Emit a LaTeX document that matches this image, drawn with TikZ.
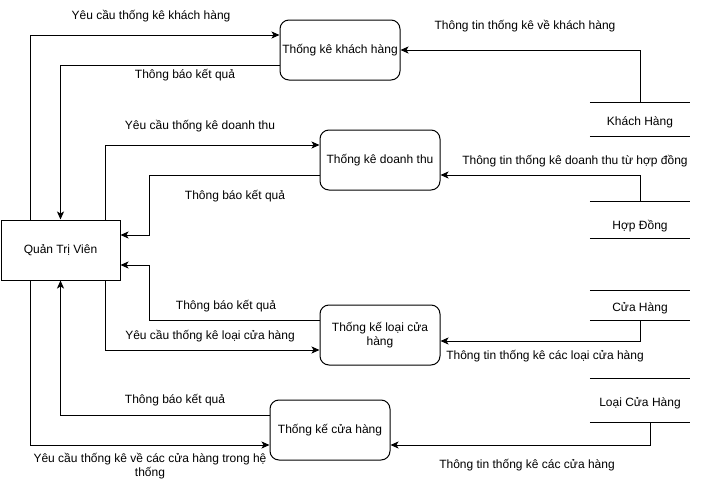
\documentclass[tikz,border=0pt]{standalone}
\usepackage{fontspec}
\setmainfont{Liberation Sans}
\usetikzlibrary{arrows.meta,calc}
\begin{document}
\begin{tikzpicture}[x=1pt,y=-1pt, font=\fontsize{12}{14}\selectfont,
 proc/.style={draw, rounded corners=9pt, minimum width=120pt, minimum height=60pt, align=center, inner sep=2pt, line width=1pt},
 ent/.style={draw, minimum width=119pt, minimum height=60pt, line width=1pt},
 store/.style={minimum width=100pt, inner sep=0pt},
 storeline/.style={line width=1pt},
 flow/.style={line width=1pt, -{Stealth[length=8pt,width=7pt,inset=2pt]}},
 lbl/.style={inner sep=0pt, align=center}]
\useasboundingbox (0,0) rectangle (702,482);
% entities and processes
\node[ent] (qtv) at (60.5,250) {Quản Trị Viên};
\node[proc] (kh) at (340,50) {Thống kê khách hàng};
\node[proc] (dt) at (380,160) {Thống kê doanh thu};
\node[proc] (lch) at (380,335) {Thống kế loại cửa\\hàng};
\node[proc] (ch) at (330,430) {Thống kế cửa hàng};
% data stores
\node[store, minimum height=33pt, label={[yshift=-3pt]center:Khách Hàng}] (skh) at (640,119.5) {};
\node[store, minimum height=36pt, label={[yshift=-6pt]center:Hợp Đồng}] (shd) at (640,220) {};
\node[store, minimum height=29pt, label={[yshift=-3pt]center:Cửa Hàng}] (sch) at (640,305.5) {};
\node[store, minimum height=43pt, label={[yshift=-3pt]center:Loại Cửa Hàng}] (slch) at (640,400.5) {};
\foreach \s in {skh,shd,sch,slch}
  \draw[storeline] (\s.north west)--(\s.north east) (\s.south west)--(\s.south east);
% flows between admin and processes
\draw[flow] ([xshift=-30pt]qtv.north) |- ([yshift=15pt]kh.west);
\draw[flow] ([yshift=-15pt]kh.west) -| (qtv.north);
\draw[flow] ([xshift=45pt]qtv.north) |- ([yshift=15pt]dt.west);
\draw[flow] ([yshift=-15pt]dt.west) -- ++(-170,0) |- ([yshift=15pt]qtv.east);
\draw[flow] ([yshift=15pt]lch.west) -- ++(-170,0) |- ([yshift=-15pt]qtv.east);
\draw[flow] ([xshift=45pt]qtv.south) |- ([yshift=-15pt]lch.west);
\draw[flow] ([yshift=15pt]ch.west) -| (qtv.south);
\draw[flow] ([xshift=-30pt]qtv.south) |- ([yshift=-15pt]ch.west);
% flows from stores
\draw[flow] (skh.north) |- (kh.east);
\draw[flow] (shd.north) |- ([yshift=-15pt]dt.east);
\draw[flow] (sch.south) |- ([yshift=-6pt]lch.east);
\draw[flow] ([xshift=10pt]slch.south) |- ([yshift=-15pt]ch.east);
% labels
\node[lbl] (l1) at (151,16) {Yêu cầu thống kê khách hàng};
\node[lbl] (l2) at (185,75) {Thông báo kết quả};
\node[lbl] (l3) at (525,26) {Thông tin thống kê về khách hàng};
\node[lbl] (l4) at (200,126) {Yêu cầu thống kê doanh thu};
\node[lbl] (l5) at (235,196) {Thông báo kết quả};
\node[lbl] (l6) at (575,161) {Thông tin thống kê doanh thu từ hợp đồng};
\node[lbl] (l7) at (226,306) {Thông báo kết quả};
\node[lbl] (l8) at (210,336) {Yêu cầu thống kê loại cửa hàng};
\node[lbl] (l9) at (545,356) {Thông tin thống kê các loại cửa hàng};
\node[lbl] (l10) at (175,400) {Thông báo kết quả};
\node[lbl] (l11) at (150,466) {Yêu cầu thống kê về các cửa hàng trong hệ\\thống};
\node[lbl] (l12) at (527,465) {Thông tin thống kê các cửa hàng};
\end{tikzpicture}
\end{document}
